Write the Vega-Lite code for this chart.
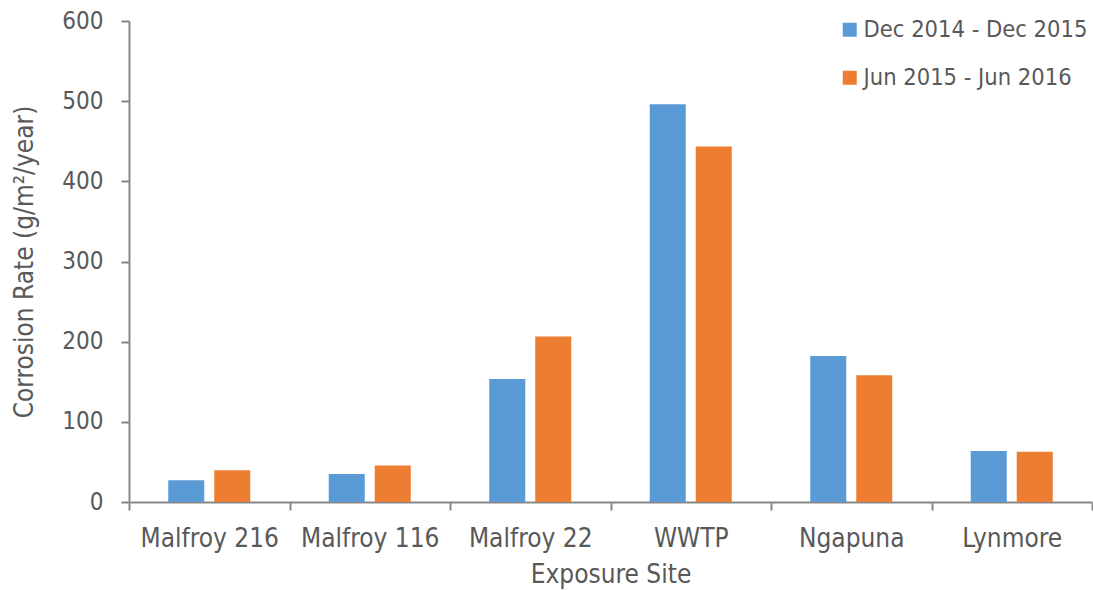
{
  "$schema": "https://vega.github.io/schema/vega-lite/v6.json",
  "width": 963,
  "height": 481,
  "autosize": "none",
  "padding": {"left": 129, "top": 21, "right": 1, "bottom": 88},
  "background": "white",
  "config": {
    "view": {"stroke": null},
    "font": "DejaVu Sans Condensed",
    "axis": {
      "domainColor": "#888888",
      "domainWidth": 2,
      "tickColor": "#888888",
      "tickWidth": 2,
      "tickSize": 8,
      "labelColor": "#595959",
      "titleColor": "#595959",
      "labelFontSize": 24,
      "titleFontSize": 26,
      "labelFont": "DejaVu Sans Condensed",
      "titleFont": "DejaVu Sans Condensed",
      "titleFontWeight": "normal",
      "grid": false
    },
    "legend": {
      "labelFont": "DejaVu Sans Condensed",
      "labelFontSize": 23.5,
      "labelColor": "#595959",
      "labelLimit": 0
    }
  },
  "data": {
    "values": [
      {"site": "Malfroy 216", "period": "Dec 2014 - Dec 2015", "rate": 27},
      {"site": "Malfroy 216", "period": "Jun 2015 - Jun 2016", "rate": 39.5},
      {"site": "Malfroy 116", "period": "Dec 2014 - Dec 2015", "rate": 35},
      {"site": "Malfroy 116", "period": "Jun 2015 - Jun 2016", "rate": 45.5},
      {"site": "Malfroy 22", "period": "Dec 2014 - Dec 2015", "rate": 153.5},
      {"site": "Malfroy 22", "period": "Jun 2015 - Jun 2016", "rate": 206.5},
      {"site": "WWTP", "period": "Dec 2014 - Dec 2015", "rate": 496},
      {"site": "WWTP", "period": "Jun 2015 - Jun 2016", "rate": 443.5},
      {"site": "Ngapuna", "period": "Dec 2014 - Dec 2015", "rate": 182},
      {"site": "Ngapuna", "period": "Jun 2015 - Jun 2016", "rate": 158},
      {"site": "Lynmore", "period": "Dec 2014 - Dec 2015", "rate": 63.5},
      {"site": "Lynmore", "period": "Jun 2015 - Jun 2016", "rate": 62.7}
    ]
  },
  "mark": {"type": "bar"},
  "encoding": {
    "x": {
      "field": "site",
      "type": "nominal",
      "sort": ["Malfroy 216", "Malfroy 116", "Malfroy 22", "WWTP", "Ngapuna", "Lynmore"],
      "scale": {"paddingInner": 0, "paddingOuter": 0},
      "axis": {
        "title": "Exposure Site",
        "labelAngle": 0,
        "labelFontSize": 26,
        "tickBand": "extent",
        "labelPadding": 15,
        "titlePadding": 10
      }
    },
    "xOffset": {
      "field": "period",
      "type": "nominal",
      "sort": ["Dec 2014 - Dec 2015", "Jun 2015 - Jun 2016"],
      "scale": {"paddingInner": 0.217, "paddingOuter": 0.853}
    },
    "y": {
      "field": "rate",
      "type": "quantitative",
      "scale": {"domain": [0, 600], "nice": false},
      "axis": {
        "values": [0, 100, 200, 300, 400, 500, 600],
        "title": "Corrosion Rate (g/m²/year)",
        "labelPadding": 18,
        "titlePadding": 24
      }
    },
    "color": {
      "field": "period",
      "type": "nominal",
      "sort": ["Dec 2014 - Dec 2015", "Jun 2015 - Jun 2016"],
      "scale": {"range": ["#5B9BD5", "#ED7D31"]},
      "legend": {
        "title": null,
        "orient": "none",
        "legendX": 709,
        "legendY": -3,
        "symbolType": "square",
        "symbolSize": 196,
        "symbolStrokeWidth": 0,
        "symbolOpacity": 1,
        "labelOffset": 2,
        "rowPadding": 23
      }
    }
  }
}
